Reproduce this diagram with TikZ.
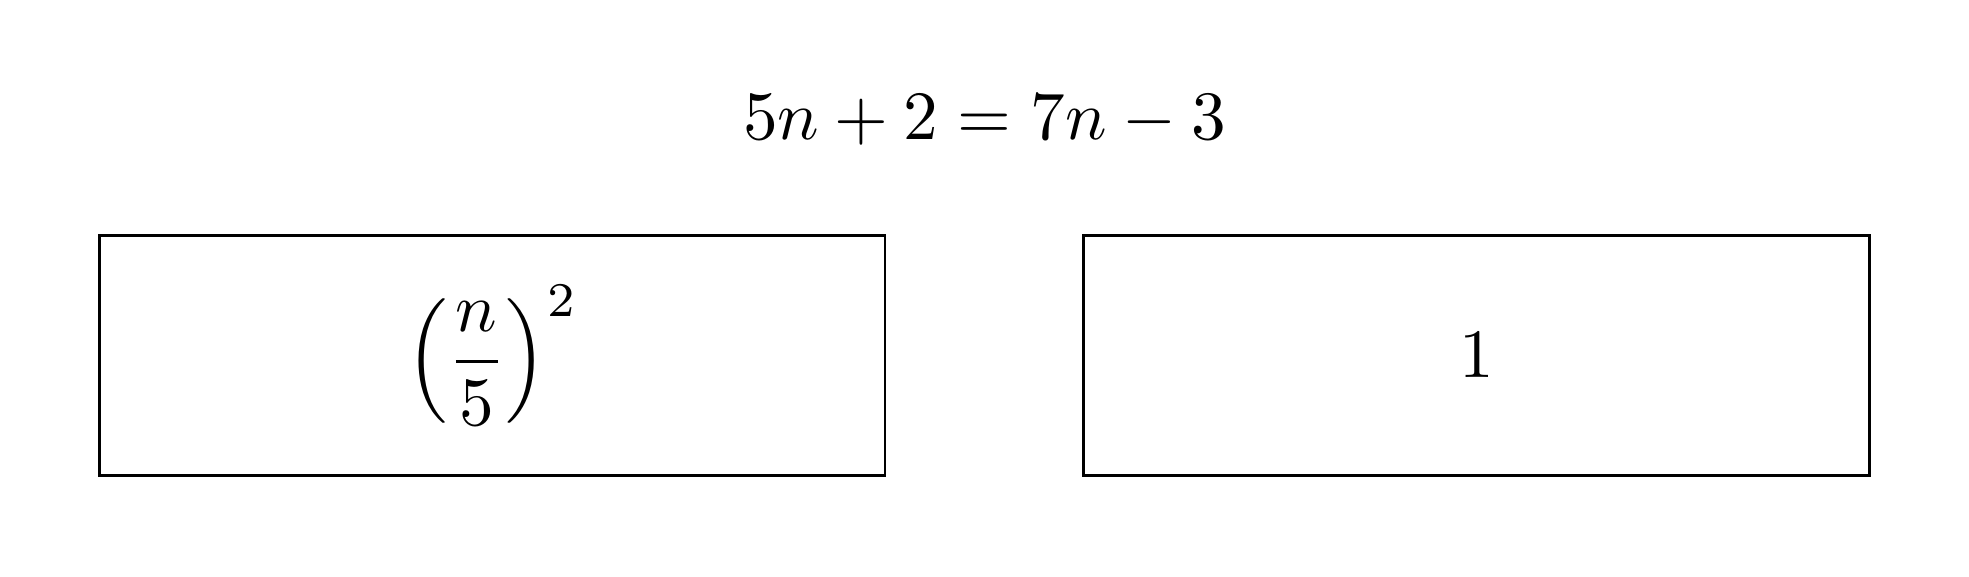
\documentclass[tikz,border=0pt]{standalone}
\usepackage{amsmath}
\usepackage{amssymb}
\usetikzlibrary{positioning}

\begin{document}
\begin{tikzpicture}[node distance=0.995cm,
  card/.style={draw, minimum width=3.99cm, minimum height=1.22cm, inner sep=0pt}]
  \useasboundingbox (0,0) rectangle (10,2.93);
  \node (eq) [anchor=base] at (5,2.22) {$5n+2=7n-3$};
  \node (lhs) [card] at (2.5,1.125) {$\left(\dfrac{n}{5}\right)^2$};
  \node (rhs) [card, right=of lhs] {$1$};
\end{tikzpicture}
\end{document}
